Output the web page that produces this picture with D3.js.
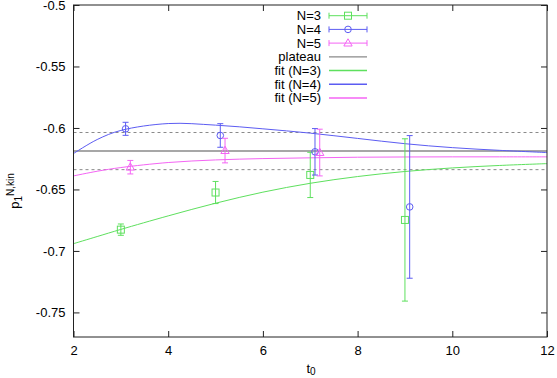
<!DOCTYPE html>
<html>
<head>
<meta charset="utf-8">
<script src="https://cdn.jsdelivr.net/npm/d3@7"></script>
<style>
  body { margin: 0; background: #fff; }
  text { font-family: "Liberation Sans", Arial, sans-serif; font-size: 13px; fill: #000; }
</style>
</head>
<body>
<svg id="chart" width="557" height="378"></svg>
<script>
// measured data points (t0 slightly shifted per N, as in the plot)
var tN3 = [3.0, 5.0, 7.0, 9.0],
    vN3 = [-0.6827, -0.6525, -0.6382, -0.6748],
    eN3 = [0.0046, 0.0090, 0.0184, 0.0660];
var tN4 = [3.1, 5.1, 7.1, 9.1],
    vN4 = [-0.6007, -0.6061, -0.6194, -0.6642],
    eN4 = [0.0053, 0.0096, 0.0189, 0.0580];
var tN5 = [3.2, 5.2, 7.2],
    vN5 = [-0.6319, -0.6184, -0.6200],
    eN5 = [0.0055, 0.0100, 0.0190];

// fit curves
var fitT  = [2, 2.5, 3, 4, 5, 6, 7, 8, 9, 10, 11, 12];
var fitN3 = [-0.6941, -0.6883, -0.6825, -0.6715, -0.6612, -0.6522, -0.6450, -0.6395, -0.6354, -0.6325, -0.6305, -0.6290];
var fitN4 = [-0.6208, -0.6094, -0.6020, -0.5964, -0.5977, -0.6007, -0.6042, -0.6085, -0.6128, -0.6160, -0.6182, -0.6200];
var fitN5 = [-0.6390, -0.6352, -0.6322, -0.6281, -0.6260, -0.6249, -0.6243, -0.6238, -0.6236, -0.6235, -0.6235, -0.6235];

var plateau = -0.6188, plateauErr = 0.0151;

var xTicks = [2, 4, 6, 8, 10, 12];
var yTicks = [-0.75, -0.7, -0.65, -0.6, -0.55, -0.5];

var colors = { n3: "#5ee05e", n4: "#5c5cf2", n5: "#f464f4", plateau: "#8a8a8a" };

var margin = { top: 5, left: 73.5, right: 10, bottom: 41 },
    W = 557, H = 378;

var svg = d3.select("#chart");

var x = d3.scaleLinear().domain([2, 12]).range([margin.left, W - margin.right]);
var y = d3.scaleLinear().domain([-0.77, -0.5]).range([H - margin.bottom, margin.top]);

var fmtY = function(d) { return String(+d.toFixed(2)); };

// axes, ticks point inward like gnuplot
svg.append("g").attr("transform", "translate(0," + y.range()[0] + ")")
    .call(d3.axisBottom(x).tickValues(xTicks).tickSize(-6).tickPadding(9).tickFormat(d3.format("d")));
svg.append("g").attr("transform", "translate(0," + y.range()[1] + ")")
    .call(d3.axisTop(x).tickValues(xTicks).tickSize(-6).tickFormat(""));
svg.append("g").attr("transform", "translate(" + x.range()[0] + ",0)")
    .call(d3.axisLeft(y).tickValues(yTicks).tickSize(-6).tickPadding(8).tickFormat(fmtY));
svg.append("g").attr("transform", "translate(" + x.range()[1] + ",0)")
    .call(d3.axisRight(y).tickValues(yTicks).tickSize(-6).tickFormat(""));

svg.selectAll(".domain").remove();
svg.selectAll(".tick line").attr("stroke", "#222");
svg.selectAll(".tick text").style("font-family", '"Liberation Sans", Arial, sans-serif').style("font-size", "13px");

// plateau band
var plotLine = function(val, dashed) {
    svg.append("line")
        .attr("x1", x.range()[0]).attr("x2", x.range()[1])
        .attr("y1", y(val)).attr("y2", y(val))
        .attr("stroke", colors.plateau)
        .attr("stroke-width", dashed ? 1 : 1.5)
        .attr("stroke-dasharray", dashed ? "3,3" : null);
};
plotLine(plateau, false);
plotLine(plateau + plateauErr, true);
plotLine(plateau - plateauErr, true);

// fit curves
var line = d3.line()
    .x(function(d) { return x(d[0]); })
    .y(function(d) { return y(d[1]); })
    .curve(d3.curveCatmullRom);

[[fitN3, colors.n3], [fitN4, colors.n4], [fitN5, colors.n5]].forEach(function(f) {
    svg.append("path")
        .datum(d3.zip(fitT, f[0]))
        .attr("d", line)
        .attr("fill", "none")
        .attr("stroke", f[1])
        .attr("stroke-width", 1);
});

// symbols
var drawSymbol = function(g, kind, cx, cy, color) {
    if (kind == "square") {
        g.append("rect").attr("x", cx - 3.5).attr("y", cy - 3.5).attr("width", 7).attr("height", 7)
            .attr("fill", "none").attr("stroke", color);
    } else if (kind == "circle") {
        g.append("circle").attr("cx", cx).attr("cy", cy).attr("r", 3.3)
            .attr("fill", "none").attr("stroke", color);
    } else {
        g.append("path").attr("d", d3.symbol(d3.symbolTriangle, 30)())
            .attr("transform", "translate(" + cx + "," + (cy + 0.5) + ")")
            .attr("fill", "none").attr("stroke", color);
    }
};

var drawErr = function(g, x0, y1, y2, cap, color) {
    g.append("line").attr("x1", x0).attr("x2", x0).attr("y1", y1).attr("y2", y2).attr("stroke", color);
    g.append("line").attr("x1", x0 - cap).attr("x2", x0 + cap).attr("y1", y1).attr("y2", y1).attr("stroke", color);
    g.append("line").attr("x1", x0 - cap).attr("x2", x0 + cap).attr("y1", y2).attr("y2", y2).attr("stroke", color);
};

var series = [
    { t: tN3, v: vN3, e: eN3, kind: "square", color: colors.n3 },
    { t: tN4, v: vN4, e: eN4, kind: "circle", color: colors.n4 },
    { t: tN5, v: vN5, e: eN5, kind: "triangle", color: colors.n5 }
];

series.forEach(function(s) {
    var g = svg.append("g");
    s.t.forEach(function(tv, i) {
        drawErr(g, x(tv), y(s.v[i] + s.e[i]), y(s.v[i] - s.e[i]), 3, s.color);
        drawSymbol(g, s.kind, x(tv), y(s.v[i]), s.color);
    });
});

// legend
var legendItems = [
    { label: "N=3", color: colors.n3, kind: "square" },
    { label: "N=4", color: colors.n4, kind: "circle" },
    { label: "N=5", color: colors.n5, kind: "triangle" },
    { label: "plateau", color: colors.plateau },
    { label: "fit (N=3)", color: colors.n3 },
    { label: "fit (N=4)", color: colors.n4 },
    { label: "fit (N=5)", color: colors.n5 }
];
var lg = svg.append("g");
legendItems.forEach(function(d, i) {
    var ly = 15.7 + i * 13.7;
    lg.append("text").attr("x", 321).attr("y", ly).attr("dy", "0.35em")
        .attr("text-anchor", "end").text(d.label);
    if (d.kind) {
        lg.append("line").attr("x1", 329).attr("x2", 367).attr("y1", ly).attr("y2", ly).attr("stroke", d.color);
        lg.append("line").attr("x1", 329).attr("x2", 329).attr("y1", ly - 3).attr("y2", ly + 3).attr("stroke", d.color);
        lg.append("line").attr("x1", 367).attr("x2", 367).attr("y1", ly - 3).attr("y2", ly + 3).attr("stroke", d.color);
        drawSymbol(lg, d.kind, 348, ly, d.color);
    } else {
        lg.append("line").attr("x1", 329).attr("x2", 367).attr("y1", ly).attr("y2", ly)
            .attr("stroke", d.color).attr("stroke-width", d.label == "plateau" ? 1.2 : 1.5);
    }
});

// frame
svg.append("rect")
    .attr("x", x.range()[0]).attr("y", y.range()[1])
    .attr("width", x.range()[1] - x.range()[0]).attr("height", y.range()[0] - y.range()[1])
    .attr("fill", "none").attr("stroke", "#222");

// axis titles
var xl = svg.append("text").attr("x", 311).attr("y", 373).attr("text-anchor", "middle");
xl.append("tspan").text("t");
xl.append("tspan").attr("dy", 2).style("font-size", "10px").text("0");

var yl = svg.append("text").attr("transform", "translate(19,191) rotate(-90)").attr("text-anchor", "middle");
yl.append("tspan").text("p");
yl.append("tspan").attr("dy", 3).style("font-size", "10px").text("1");
yl.append("tspan").attr("dy", -8).style("font-size", "10px").text("N,kin");
</script>
</body>
</html>
